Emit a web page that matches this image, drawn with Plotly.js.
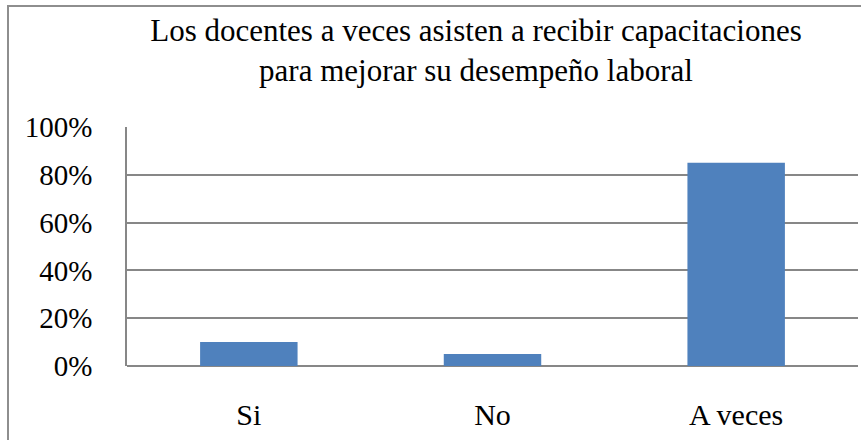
<!DOCTYPE html>
<html>
<head>
<meta charset="utf-8">
<script src="https://cdn.plot.ly/plotly-3.0.1.min.js"></script>
</head>
<body style="margin:0;background:#fff;overflow:hidden">
<span style="position:absolute;left:0;top:0;visibility:hidden;font-family:'Liberation Serif';font-size:30px">Aa0%</span>
<div id="chart" style="position:absolute;left:0;top:0;"></div>
<div style="position:absolute;left:7px;top:5px;width:900px;height:500px;border:2px solid #8e8e8e;box-sizing:border-box;pointer-events:none;"></div>
<script>
const categories = ["Si", "No", "A veces"];
const values = [0.10, 0.05, 0.85];
const yTickVals = [0, 0.2, 0.4, 0.6, 0.8, 1.0];
const yTickLabels = ["0%", "20%", "40%", "60%", "80%", "100%"];
const titleText = "Los docentes a veces asisten a recibir capacitaciones<br>para mejorar su desempeño laboral";

const SERIF = "Liberation Serif";

function draw() {
  Plotly.newPlot("chart", [{
    type: "bar",
    x: categories,
    y: values,
    width: 0.4,
    marker: {color: "#4F81BD", line: {width: 0}},
    hoverinfo: "none"
  }], {
    width: 861,
    height: 440,
    margin: {l: 127, r: 3, t: 127, b: 74},
    paper_bgcolor: "#ffffff",
    plot_bgcolor: "#ffffff",
    font: {family: SERIF, size: 29, color: "#000000"},
    showlegend: false,
    title: {
      text: titleText,
      font: {family: SERIF, size: 31, color: "#000000"},
      x: 476 / 861,
      xanchor: "center",
      xref: "container",
      y: 1 - 41 / 440,
      yanchor: "top",
      yref: "container"
    },
    xaxis: {
      type: "category",
      showgrid: false,
      showline: false,
      zeroline: false,
      ticks: "outside",
      ticklen: 22,
      tickcolor: "rgba(0,0,0,0)",
      tickfont: {family: SERIF, size: 30, color: "#000000"}
    },
    yaxis: {
      range: [0, 1],
      tickvals: yTickVals,
      ticktext: yTickLabels,
      showgrid: true,
      gridcolor: "#878787",
      gridwidth: 1.5,
      showline: true,
      linecolor: "#878787",
      linewidth: 1.5,
      zeroline: true,
      zerolinecolor: "#878787",
      zerolinewidth: 1.5,
      ticks: "outside",
      ticklen: 27,
      tickcolor: "rgba(0,0,0,0)",
      tickfont: {family: SERIF, size: 29, color: "#000000"}
    }
  }, {displayModeBar: false});
}

let drawn = false;
function once() { if (!drawn) { drawn = true; draw(); } }
if (document.fonts && document.fonts.load) {
  Promise.all([
    document.fonts.load('29px "Liberation Serif"'),
    document.fonts.load('31px "Liberation Serif"')
  ]).then(once, once);
  setTimeout(once, 1500);
} else {
  once();
}
</script>
</body>
</html>
